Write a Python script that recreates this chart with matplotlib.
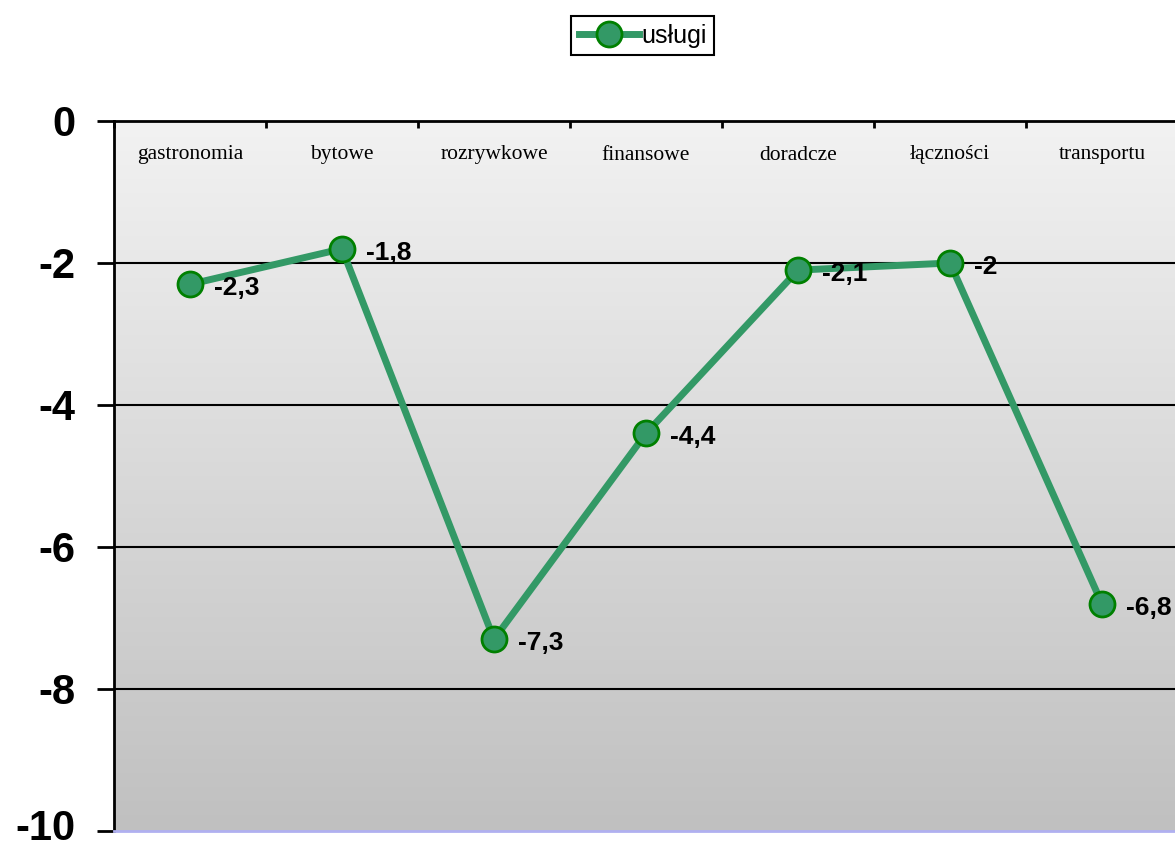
import numpy as np
import matplotlib
matplotlib.use("Agg")
import matplotlib.pyplot as plt
import matplotlib.transforms as mtransforms

categories = ["gastronomia", "bytowe", "rozrywkowe", "finansowe",
              "doradcze", "łączności", "transportu"]
values = [-2.3, -1.8, -7.3, -4.4, -2.1, -2.0, -6.8]
value_labels = ["-2,3", "-1,8", "-7,3", "-4,4", "-2,1", "-2", "-6,8"]
y_ticks = [0, -2, -4, -6, -8, -10]
series_name = "usługi"

line_color = "#339966"
edge_color = "#008000"

fig = plt.figure(figsize=(11.75, 8.48), dpi=100)
ax = fig.add_axes([114 / 1175, 17 / 848, 1064 / 1175, 710 / 848])

x = np.arange(len(categories))
ax.set_xlim(-0.5, len(categories) - 0.5)
ax.set_ylim(-10, 0)

# grey vertical gradient behind the plot
grad = np.linspace(0, 1, 256).reshape(-1, 1)
ax.imshow(grad, extent=(-0.5, len(categories) - 0.5, -10, 0), aspect="auto",
          cmap=matplotlib.colors.LinearSegmentedColormap.from_list(
              "bg", ["#f2f2f2", "#c0c0c0"]),
          origin="upper", zorder=0, interpolation="bicubic")

for v in y_ticks[1:-1]:
    ax.axhline(v, color="black", lw=1.5, zorder=1)

ax.plot(x, values, color=line_color, lw=5, marker="o", markersize=18,
        markerfacecolor=line_color, markeredgecolor=edge_color,
        markeredgewidth=2, label=series_name, zorder=3)

for xi, v, lab in zip(x, values, value_labels):
    ax.annotate(lab, xy=(xi, v), xytext=(24, -4), textcoords="offset pixels",
                ha="left", va="center", fontsize=19, fontweight="bold",
                family="Liberation Sans", zorder=4)

for xi, cat in zip(x, categories):
    ax.annotate(cat, xy=(xi, 0), xytext=(0, -34), textcoords="offset pixels",
                ha="center", va="center", fontsize=15.5,
                family="Liberation Serif")

# spines
ax.spines["right"].set_visible(False)
ax.spines["top"].set_linewidth(2)
ax.spines["left"].set_linewidth(2)
ax.spines["bottom"].set_color("#b0b0f0")
ax.spines["bottom"].set_linewidth(2)

# category boundary ticks on the top edge
ax.xaxis.tick_top()
ax.set_xticks(np.arange(-0.5, len(categories) + 0.5, 1))
ax.set_xticklabels([])
ax.tick_params(axis="x", direction="in", length=5, width=2, color="black")

ax.set_yticks(y_ticks)
ax.set_yticklabels([str(t) for t in y_ticks], fontsize=30, fontweight="bold",
                   family="Liberation Sans")
ax.tick_params(axis="y", direction="out", length=12, width=2, pad=16)

# lift the bottom label a little so it stays inside the figure
bottom_tick = ax.yaxis.get_major_ticks()[-1]
bottom_tick.label1.set_transform(
    bottom_tick.label1.get_transform()
    + mtransforms.ScaledTranslation(0, 0.07, fig.dpi_scale_trans))

leg = fig.legend(loc="center", bbox_to_anchor=(0.547, 0.958),
                 prop={"family": "Liberation Sans", "size": 18},
                 handlelength=2.4, handletextpad=0.1, fancybox=False,
                 framealpha=1, edgecolor="black", borderpad=0.3)
leg.get_frame().set_linewidth(1.5)

fig.savefig("out.png", dpi=100)
